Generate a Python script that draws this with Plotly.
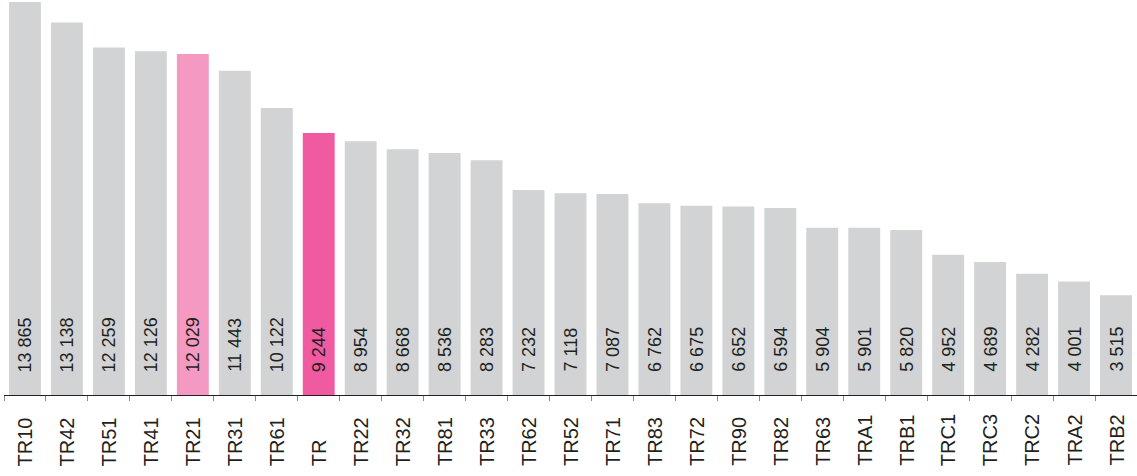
import plotly.graph_objects as go

categories = ["TR10", "TR42", "TR51", "TR41", "TR21", "TR31", "TR61", "TR", "TR22", "TR32",
              "TR81", "TR33", "TR62", "TR52", "TR71", "TR83", "TR72", "TR90", "TR82", "TR63",
              "TRA1", "TRB1", "TRC1", "TRC3", "TRC2", "TRA2", "TRB2"]
values = [13865, 13138, 12259, 12126, 12029, 11443, 10122, 9244, 8954, 8668,
          8536, 8283, 7232, 7118, 7087, 6762, 6675, 6652, 6594, 5904,
          5901, 5820, 4952, 4689, 4282, 4001, 3515]
highlight = {"TR21": "#F49AC2", "TR": "#EF5AA1"}
base_color = "#D1D3D4"

colors = [highlight.get(c, base_color) for c in categories]
value_labels = [f"{v:,}".replace(",", " ") for v in values]

fig = go.Figure(go.Bar(
    x=categories, y=values, marker=dict(color=colors, line=dict(width=0)),
    hoverinfo="x+y",
))

text_color = "#231F20"
font_family = "Liberation Sans, Arial, sans-serif"
annotations = []
for c, lab in zip(categories, value_labels):
    annotations.append(dict(
        x=c, y=0, xref="x", yref="y", text=lab, showarrow=False,
        textangle=-90, xanchor="center", yanchor="bottom", yshift=21,
        font=dict(family=font_family, size=18, color=text_color),
    ))
    annotations.append(dict(
        x=c, y=0, xref="x", yref="paper", text=c, showarrow=False,
        textangle=-90, xanchor="center", yanchor="bottom", yshift=-73,
        font=dict(family=font_family, size=20, color=text_color),
    ))

fig.update_layout(
    width=1137, height=476,
    margin=dict(l=4, r=0, t=2, b=81),
    paper_bgcolor="white", plot_bgcolor="white",
    bargap=0.24, showlegend=False,
    annotations=annotations,
    font=dict(family=font_family, color=text_color),
)
fig.update_xaxes(
    showticklabels=False, showline=True, linecolor="#231F20", linewidth=1,
    ticks="outside", ticklen=5, tickcolor="#8A8A8A", tickwidth=1,
    tickson="boundaries", showgrid=False, zeroline=False,
)
fig.update_yaxes(visible=False, range=[0, 13865], showgrid=False, zeroline=False)

fig.write_html(
    "out.html",
    config={"displayModeBar": False},
    post_script="document.body.style.margin='0';document.body.style.overflow='hidden';",
)
